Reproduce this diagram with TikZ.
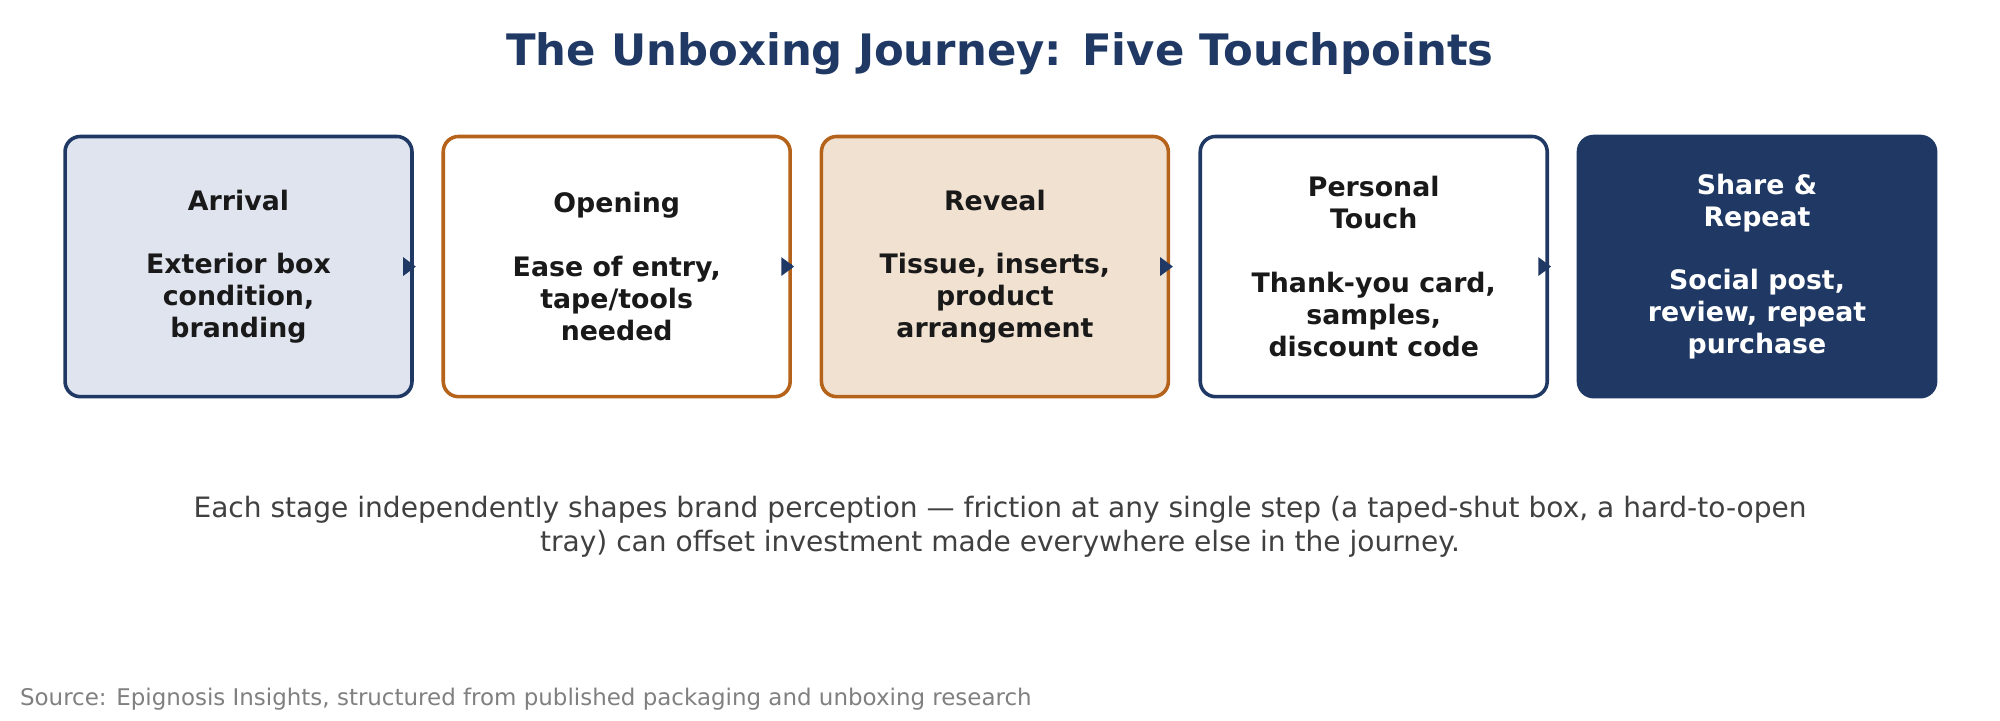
\documentclass[tikz,border=0pt]{standalone}
\usepackage{fontspec}
\setmainfont{DejaVu Sans}
\usetikzlibrary{arrows.meta}
\definecolor{navy}{HTML}{1F3864}
\definecolor{rust}{HTML}{B5621A}
\definecolor{paleblue}{HTML}{DFE4EF}
\definecolor{peach}{HTML}{F1E1D1}
\tikzset{every picture/.style={line width=0.75pt}}
\begin{document}
\begin{tikzpicture}[x=0.5pt,y=0.5pt,yscale=-1,
  stage/.style={draw,line width=1.4pt,rounded corners=6pt,minimum width=136pt,minimum height=102pt,
    align=center,font=\bfseries\fontsize{10.5}{12.5}\selectfont,text=black!90,inner sep=0pt},
  link/.style={navy,line width=2pt,-{Triangle[length=5pt,width=7pt]},shorten >=10pt}]
\useasboundingbox (0,0) rectangle (1568,565);
%title
\node (title) at (784,42) {\fontsize{17}{20}\selectfont\bfseries\color{navy}The Unboxing Journey: Five Touchpoints};
%stages
\node[stage,draw=navy,fill=paleblue] (arrival) at (187,209) {Arrival\\[12.5pt]Exterior box\\condition,\\branding};
\node[stage,draw=rust,fill=white] (opening) at (483.5,209) {Opening\\[12.5pt]Ease of entry,\\tape/tools\\needed};
\node[stage,draw=rust,fill=peach] (reveal) at (780,209) {Reveal\\[12.5pt]Tissue, inserts,\\product\\arrangement};
\node[stage,draw=navy,fill=white] (personal) at (1077,209) {Personal\\Touch\\[12.5pt]Thank-you card,\\samples,\\discount code};
\node[stage,draw=navy,fill=navy,text=white,minimum width=140pt] (share) at (1377.5,209) {Share \&\\Repeat\\[12.5pt]Social post,\\review, repeat\\purchase};
%arrows
\draw[link] (arrival.east) -- (opening.west);
\draw[link] (opening.east) -- (reveal.west);
\draw[link] (reveal.east) -- (personal.west);
\draw[link] (personal.east) -- (share.west);
%caption
\node[align=center,text=black!75,font=\fontsize{11}{13}\selectfont] (caption) at (784,413) {Each stage independently shapes brand perception — friction at any single step (a taped-shut box, a hard-to-open\\tray) can offset investment made everywhere else in the journey.};
\node[anchor=west,text=black!50,font=\fontsize{9}{11}\selectfont,inner sep=0pt] (source) at (15,548) {Source: Epignosis Insights, structured from published packaging and unboxing research};
\end{tikzpicture}
\end{document}
